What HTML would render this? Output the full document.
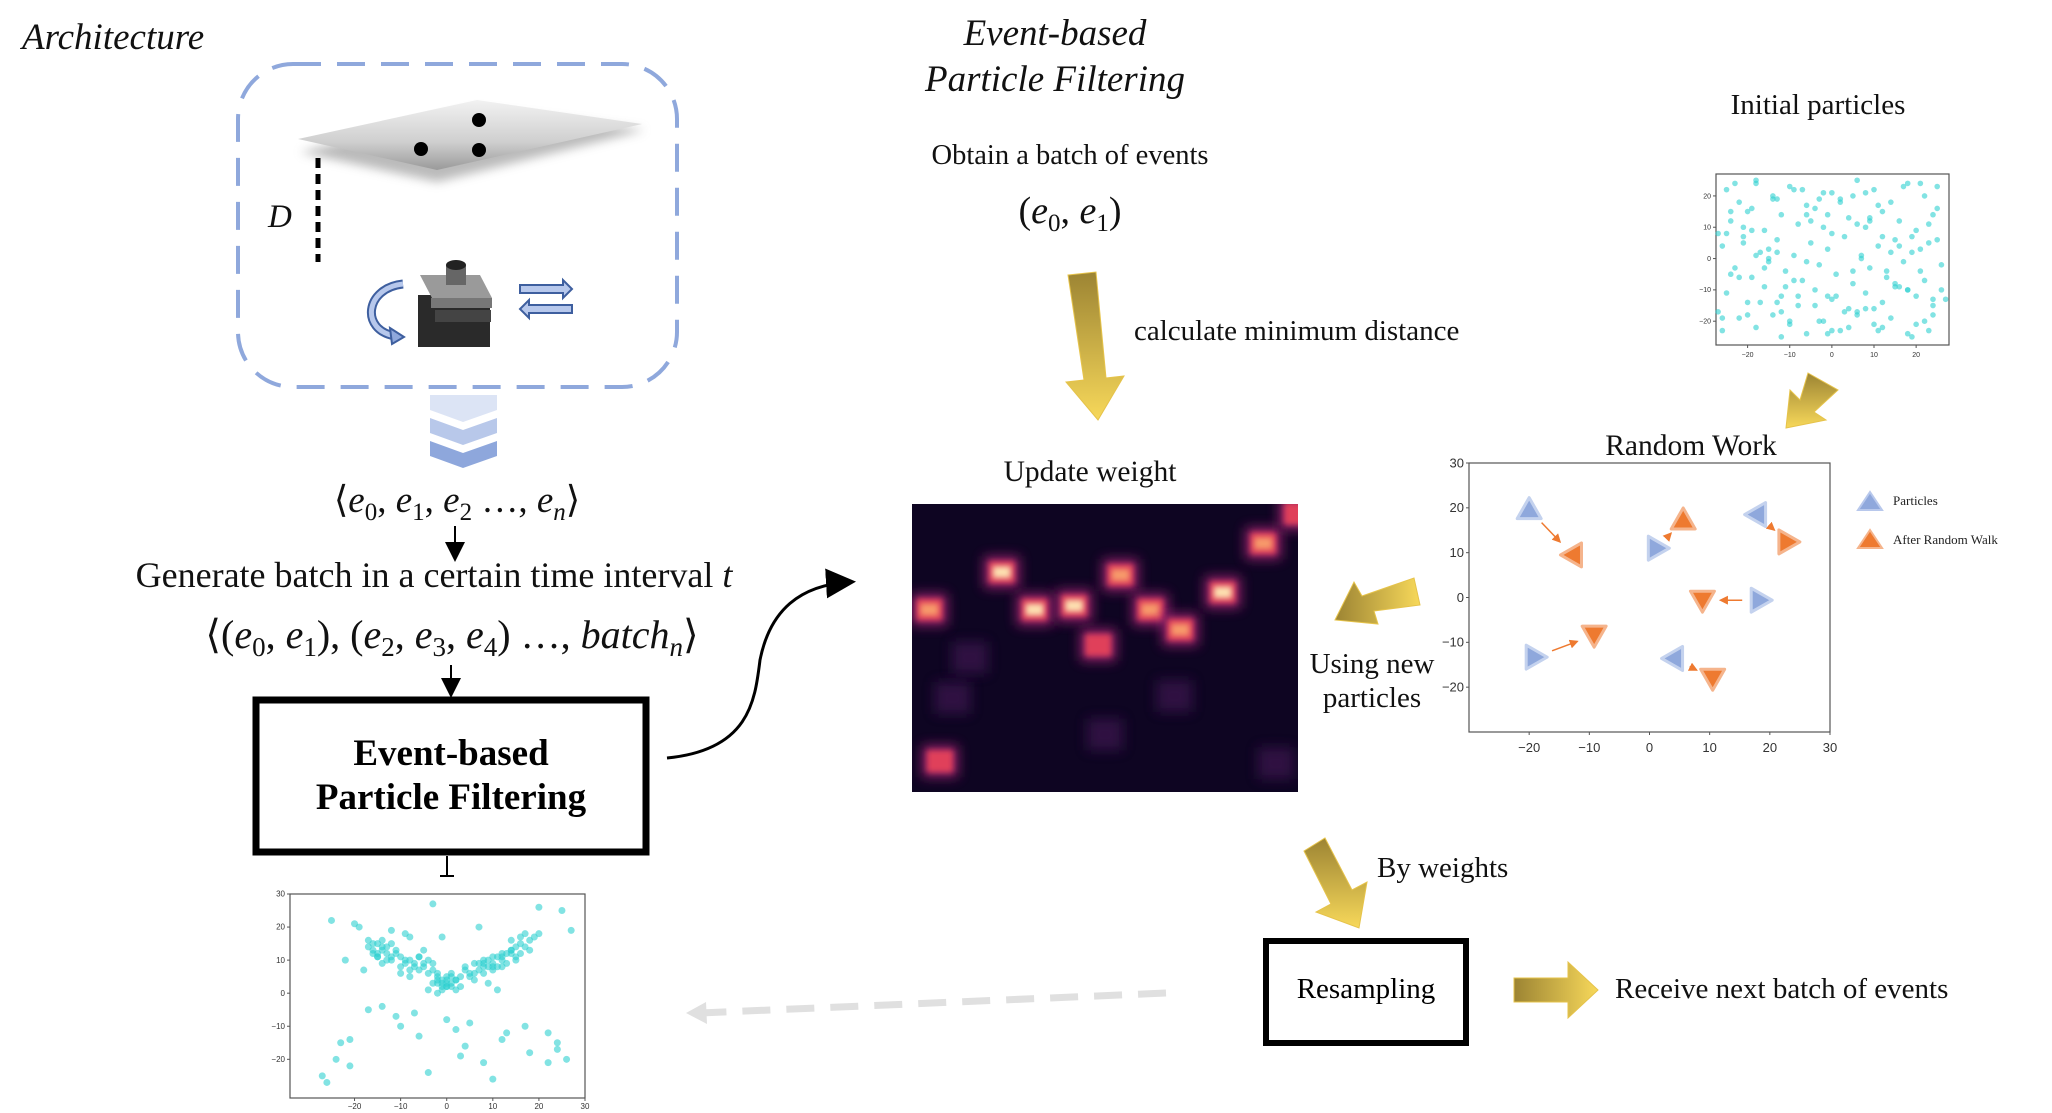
<!DOCTYPE html>
<html><head><meta charset="utf-8"><style>
html,body{margin:0;padding:0;background:#fff;}
svg{display:block;}
.serif{font-family:"Liberation Serif",serif;}
</style></head>
<body>
<svg id="root" width="2052" height="1113" viewBox="0 0 2052 1113" xmlns="http://www.w3.org/2000/svg">
<defs>
  <linearGradient id="plateG" x1="0" y1="0" x2="0" y2="1">
    <stop offset="0" stop-color="#f2f2f2"/><stop offset="0.6" stop-color="#cfcfcf"/><stop offset="1" stop-color="#9a9a9a"/>
  </linearGradient>
  <linearGradient id="goldV" x1="0" y1="0" x2="0" y2="1">
    <stop offset="0" stop-color="#9c8433"/><stop offset="1" stop-color="#f7d85a"/>
  </linearGradient>
  <linearGradient id="goldH" x1="0" y1="0" x2="1" y2="0">
    <stop offset="0" stop-color="#9c8433"/><stop offset="1" stop-color="#f7d85a"/>
  </linearGradient>
  <filter id="blur3" x="-50%" y="-50%" width="200%" height="200%"><feGaussianBlur stdDeviation="3"/></filter>
  <filter id="blur6" x="-50%" y="-50%" width="200%" height="200%"><feGaussianBlur stdDeviation="6"/></filter>
  <filter id="shadow" x="-20%" y="-50%" width="140%" height="200%"><feGaussianBlur stdDeviation="5"/></filter>
  <marker id="ah" markerWidth="10" markerHeight="10" refX="8" refY="5" orient="auto"><path d="M0,0 L10,5 L0,10 z" fill="#000"/></marker>
  <marker id="ahO" markerWidth="6" markerHeight="6" refX="5" refY="3" orient="auto"><path d="M0,0 L6,3 L0,6 z" fill="#ee7a30"/></marker>
  <clipPath id="hmClip"><rect x="912" y="504" width="386" height="288"/></clipPath>
</defs>

<!-- LEFT: Architecture -->
<text x="22" y="49" class="serif" font-style="italic" font-size="37" fill="#111">Architecture</text>
<rect x="238" y="64" width="439" height="323" rx="55" ry="55" fill="none" stroke="#8fa8dc" stroke-width="4" stroke-dasharray="28,16"/>

<g>
  <polygon points="300,152 477,110 645,130 437,182" fill="#777" opacity="0.5" filter="url(#shadow)"/>
  <polygon points="298,139 477,100 642,124 437,170" fill="url(#plateG)"/>
  <circle cx="421" cy="149" r="7" fill="#000"/>
  <circle cx="479" cy="120" r="7" fill="#000"/>
  <circle cx="479" cy="150" r="7" fill="#000"/>
</g>
<line x1="318" y1="158" x2="318" y2="262" stroke="#000" stroke-width="5" stroke-dasharray="10,6"/>
<text x="268" y="227" class="serif" font-style="italic" font-size="33" fill="#111">D</text>

<g>
  <rect x="418" y="295" width="72" height="52" fill="#2a2a2a"/>
  <polygon points="420,275 480,275 492,298 432,298" fill="#9a9a9a"/>
  <rect x="431" y="298" width="61" height="10" fill="#777"/>
  <rect x="435" y="310" width="56" height="12" fill="#444"/>
  <rect x="446" y="265" width="20" height="20" fill="#666"/>
  <ellipse cx="456" cy="265" rx="10" ry="5" fill="#222"/>
</g>
<path d="M403,284 C365,288 360,330 395,336" fill="none" stroke="#3e5f9f" stroke-width="9"/>
<path d="M403,284 C365,288 360,330 395,336" fill="none" stroke="#b7c8ec" stroke-width="5"/>
<polygon points="390,328 404,337 392,344" fill="#8fa8dc" stroke="#3e5f9f" stroke-width="2"/>
<g>
  <polygon points="520,285 563,285 563,280 572,289 563,298 563,293 520,293" fill="#b7c8ec" stroke="#3e5f9f" stroke-width="2"/>
  <polygon points="572,305 529,305 529,300 520,309 529,318 529,313 572,313" fill="#b7c8ec" stroke="#3e5f9f" stroke-width="2"/>
</g>

<g>
  <polygon points="430,395 497,395 497,410 463,422 430,410" fill="#dce4f5"/>
  <polygon points="430,418 463,430 497,418 497,433 463,445 430,433" fill="#b8c8ea"/>
  <polygon points="430,441 463,453 497,441 497,456 463,468 430,456" fill="#8ea7dc"/>
</g>

<text x="457" y="512" text-anchor="middle" font-family="Liberation Serif,serif" font-size="37" fill="#111">⟨<tspan font-style="italic">e</tspan><tspan font-size="25" dy="8">0</tspan><tspan dy="-8">, </tspan><tspan font-style="italic">e</tspan><tspan font-size="25" dy="8">1</tspan><tspan dy="-8">, </tspan><tspan font-style="italic">e</tspan><tspan font-size="25" dy="8">2</tspan><tspan dy="-8"> …, </tspan><tspan font-style="italic">e</tspan><tspan font-size="25" dy="8" font-style="italic">n</tspan><tspan dy="-8">⟩</tspan></text>
<line x1="455" y1="526" x2="455" y2="558" stroke="#000" stroke-width="2" marker-end="url(#ah)"/>
<text x="434" y="587" text-anchor="middle" class="serif" font-size="36" fill="#111">Generate batch in a certain time interval  <tspan font-style="italic">t</tspan></text>
<text x="452" y="648" text-anchor="middle" font-family="Liberation Serif,serif" font-size="40" fill="#111">⟨(<tspan font-style="italic">e</tspan><tspan font-size="27" dy="8">0</tspan><tspan dy="-8">, </tspan><tspan font-style="italic">e</tspan><tspan font-size="27" dy="8">1</tspan><tspan dy="-8">), (</tspan><tspan font-style="italic">e</tspan><tspan font-size="27" dy="8">2</tspan><tspan dy="-8">, </tspan><tspan font-style="italic">e</tspan><tspan font-size="27" dy="8">3</tspan><tspan dy="-8">, </tspan><tspan font-style="italic">e</tspan><tspan font-size="27" dy="8">4</tspan><tspan dy="-8">) …, </tspan><tspan font-style="italic">batch</tspan><tspan font-size="27" dy="8" font-style="italic">n</tspan><tspan dy="-8">⟩</tspan></text>
<line x1="451" y1="665" x2="451" y2="694" stroke="#000" stroke-width="2" marker-end="url(#ah)"/>

<g>
  <rect x="256" y="700" width="390" height="152" fill="#fff" stroke="#000" stroke-width="7"/>
  <text x="451" y="765" text-anchor="middle" class="serif" font-weight="bold" font-size="37" fill="#000">Event-based</text>
  <text x="451" y="809" text-anchor="middle" class="serif" font-weight="bold" font-size="37" fill="#000">Particle Filtering</text>
</g>
<line x1="447" y1="856" x2="447" y2="876" stroke="#000" stroke-width="2"/>
<line x1="440" y1="876" x2="454" y2="876" stroke="#000" stroke-width="2"/>
<path d="M667,758 C750,750 755,700 760,660 C770,610 800,585 850,582" fill="none" stroke="#000" stroke-width="3" marker-end="url(#ah)"/>

<g id="bottomPlot"></g>

<!-- CENTER -->
<text x="1055" y="45" text-anchor="middle" class="serif" font-style="italic" font-size="37" fill="#111">Event-based</text>
<text x="1055" y="91" text-anchor="middle" class="serif" font-style="italic" font-size="37" fill="#111">Particle Filtering</text>
<text x="1070" y="164" text-anchor="middle" class="serif" font-size="28.5" fill="#111">Obtain a batch of events</text>
<text x="1070" y="223" text-anchor="middle" font-family="Liberation Serif,serif" font-size="38" fill="#111">(<tspan font-style="italic">e</tspan><tspan font-size="25" dy="8">0</tspan><tspan dy="-8">, </tspan><tspan font-style="italic">e</tspan><tspan font-size="25" dy="8">1</tspan><tspan dy="-8">)</tspan></text>
<polygon points="1068,275 1096,272 1106,378 1124,376 1098,420 1066,382 1084,380" fill="url(#goldV)" stroke="#e6c34a" stroke-width="1"/>
<text x="1134" y="340" class="serif" font-size="29" fill="#111">calculate minimum distance</text>
<text x="1090" y="481" text-anchor="middle" class="serif" font-size="29.5" fill="#111">Update weight</text>

<g>
  <rect x="912" y="504" width="386" height="288" fill="#0e0522"/>
  <g id="heatBlobs" clip-path="url(#hmClip)"></g>
</g>

<polygon points="1304,851 1325,838 1352,890 1367,882 1359,928 1316,912 1331,904" fill="url(#goldV)" stroke="#e6c34a" stroke-width="1"/>
<text x="1377" y="877" class="serif" font-size="29" fill="#111">By weights</text>
<g>
  <rect x="1266" y="941" width="200" height="102" fill="#fff" stroke="#000" stroke-width="6"/>
  <text x="1366" y="998" text-anchor="middle" class="serif" font-size="29" fill="#000">Resampling</text>
</g>
<polygon points="1514,978 1568,978 1568,962 1598,990 1568,1018 1568,1002 1514,1002" fill="url(#goldH)" stroke="#e6c34a" stroke-width="1"/>
<text x="1615" y="998" class="serif" font-size="29" fill="#111">Receive next batch of events</text>
<line x1="1166" y1="993" x2="700" y2="1013" stroke="#e0e0e0" stroke-width="7" stroke-dasharray="28,16"/>
<polygon points="686,1013 706,1002 707,1024" fill="#e0e0e0"/>

<!-- RIGHT -->
<text x="1818" y="114" text-anchor="middle" class="serif" font-size="29" fill="#111">Initial particles</text>
<g id="initPlot"></g>
<polygon points="1808,373 1838,390 1814,412 1826,420 1786,428 1790,390 1800,400" fill="url(#goldV)" stroke="#e6c34a" stroke-width="1"/>
<text x="1691" y="455" text-anchor="middle" class="serif" font-size="29.5" fill="#111">Random Work</text>
<g id="rwPlot"></g>
<g>
  <polygon points="1858,510 1870,492 1882,510" fill="#8fa8dc" stroke="#b8c8ec" stroke-width="2"/>
  <text x="1893" y="505" class="serif" font-size="13" fill="#222">Particles</text>
  <polygon points="1858,548 1870,530 1882,548" fill="#ee7a30" stroke="#f5b48c" stroke-width="2"/>
  <text x="1893" y="544" class="serif" font-size="13" fill="#222">After Random Walk</text>
</g>
<polygon points="1414,578 1420,605 1374,611 1378,624 1335,620 1354,582 1362,596" fill="url(#goldH)" stroke="#e6c34a" stroke-width="1"/>
<text x="1372" y="673" text-anchor="middle" class="serif" font-size="29" fill="#111">Using new</text>
<text x="1372" y="707" text-anchor="middle" class="serif" font-size="29" fill="#111">particles</text>
</svg>

<script>
const NS="http://www.w3.org/2000/svg";
function mk(tag,attrs,parent){const e=document.createElementNS(NS,tag);for(const k in attrs)e.setAttribute(k,attrs[k]);parent.appendChild(e);return e;}

// ---------- Heatmap hot spots (grid units: 0..40 cols, 0..30 rows) ----------
const hmCols=[9.3,1.8,12.7,16.8,21.6,24.7,27.8,32.2,36.4,39.9,19.3,2.9,4.2,37.7,27.2,6.0,20.0];
const hmRows=[7.1,11.0,11.0,10.6,7.4,11.0,13.1,9.2,4.1,1.0,14.7,26.8,20.2,27.0,20.0,16.0,24.0];
const hmHeat=[1.0,0.85,0.95,0.95,0.85,0.9,0.85,1.0,0.9,0.8,0.6,0.7,0.35,0.3,0.2,0.2,0.2];

// ---------- Initial particles ----------
const initX=[-25,-22,-18,-14,-10,-6,-2,2,6,10,14,18,22,25,-24,-20,-16,-12,-8,-4,0,4,8,12,16,20,24,-26,-21,-17,-13,-9,-5,-1,3,7,11,15,19,23,-23,-19,-15,-11,-7,-3,1,5,9,13,17,21,26,-25,-20,-16,-12,-8,-4,0,4,8,12,16,20,24,-22,-18,-14,-10,-6,-2,2,6,10,14,18,22,-26,-21,-15,-9,-3,3,9,15,21,25,-24,-12,0,12,24,-18,-6,6,18,-27,27,-1,8,-13,
 -23,-19,-13,-7,-1,5,11,17,23,-25,-15,-5,5,15,25,-20,-10,0,10,20,-22,-12,-2,8,18,-18,-8,2,12,22,-26,-16,-6,4,14,24,-21,-11,-1,9,19,-24,-14,-4,6,16,26,-17,-3,11,21,-9,7,-27,13,-19,1,19,-13,23];
const initY=[22,18,24,20,23,17,21,19,25,22,18,24,20,23,12,15,9,14,11,16,8,13,10,15,12,9,14,4,7,2,6,1,5,3,7,0,4,6,2,5,-3,-6,-1,-4,-7,-2,-5,-8,-3,-6,-1,-4,-2,-11,-14,-9,-12,-15,-10,-13,-16,-11,-14,-9,-12,-15,-19,-22,-18,-21,-24,-20,-23,-17,-21,-19,-24,-20,-23,10,0,-7,19,-17,12,-9,3,16,-5,-25,21,-22,-18,1,-1,11,-10,8,-13,-12,-16,-14,
 24,16,19,22,14,20,17,23,11,8,3,12,-4,-8,6,-18,-20,-23,-16,-21,-6,-17,10,21,-10,25,-12,18,7,-7,-19,-3,14,-22,2,-13,5,-9,-24,13,-25,15,19,-15,-18,4,-10,-14,-20,-23,24,22,1,-17,-4,9,-12,7,2,-23];

// ---------- Result particles (after filtering) ----------
const resX=[-16,-15,-14,-13,-12,-14,-15,-11,-10,-9,-8,-7,-6,-5,-4,-3,-2,-1,0,1,2,-1,0,1,-2,3,4,5,6,7,8,9,10,11,12,13,14,15,16,17,18,16,15,14,12,10,8,-5,-8,-12,-17,-19,-25,-22,-27,-20,-24,-18,-10,-6,0,4,8,12,18,22,26,25,27,-26,-23,-21,-17,-11,-4,3,10,17,24,-14,-1,7,20,2,-9,13,-3,9,24,-21,5,11,-7,22,
 -17,-16,-15,-14,-13,-12,-11,-13,-15,-16,-14,-12,-10,-9,-8,-7,-6,-5,-4,-3,-2,-1,0,1,2,-3,-2,-1,0,1,2,3,4,5,6,7,8,9,10,11,12,13,14,15,16,17,18,19,20,14,12,10,8,6,-6,-8,-10,-4,-2,0];
const resY=[13,11,14,12,10,9,15,12,8,10,7,9,11,8,6,9,4,3,2,3,4,1,5,6,3,5,8,6,9,7,10,8,9,11,10,12,13,11,15,18,16,17,14,13,12,8,6,13,17,19,16,20,22,10,-25,21,-20,7,-10,-13,-8,-16,-21,-14,-18,-12,-20,25,19,-27,-15,-22,-5,-7,-24,-19,-26,-10,-15,-4,17,20,26,-11,18,-12,27,3,-17,-14,-9,1,-6,-21,
 14,15,12,13,14,11,13,10,11,12,16,15,11,9,10,8,7,9,10,7,5,2,4,2,1,3,6,4,3,5,4,2,7,5,6,9,8,10,7,8,11,9,12,10,12,14,13,17,18,16,8,11,9,4,11,5,6,1,0,2];

// ---------- Random walk ----------
const rwBlueX=[-20,1.3,17.8,18.4,-19,4];
const rwBlueY=[19.6,11,18.5,-0.6,-13.3,-13.6];
const rwBlueDir=["up","right","left","right","right","left"];
const rwOrX=[-12.8,5.6,23,8.8,-9.2,10.5];
const rwOrY=[9.5,17.3,12.4,-0.6,-8.4,-18];
const rwOrDir=["left","up","right","down","down","down"];

const rwTicksX=[-20,-10,0,10,20,30];
const rwTicksY=[30,20,10,0,-10,-20];
const smallTicks20=[-20,-10,0,10,20];
const bottomTicksX=[-20,-10,0,10,20,30];
const bottomTicksY=[30,20,10,0,-10,-20];

// heatmap
(function(){
  const g=document.getElementById('heatBlobs');
  const x0=912,y0=504,cw=386/40,ch=288/30;
  for(let i=0;i<hmCols.length;i++){
    const cx=x0+hmCols[i]*cw, cy=y0+hmRows[i]*ch, h=hmHeat[i];
    const glow=mk('rect',{x:cx-18,y:cy-16,width:36,height:32,fill:h>0.5?'#9a2470':'#3d1650',opacity:h>0.5?0.9:0.7,filter:'url(#blur6)'},g);
    
    
    if(h>0.5){
      const c=mk('rect',{x:cx-13,y:cy-11,width:26,height:22,fill:'#e0405a',filter:'url(#blur3)'},g);
      
      
      if(h>0.8){
        const k=mk('rect',{x:cx-9,y:cy-6,width:18,height:12,fill:h>0.9?'#fde0b0':'#f79a6a',filter:'url(#blur3)'},g);
        
        
      }
    }
  }
})();

function axesBox(g,L,T,R,B,xmin,xmax,ymin,ymax,tx,ty,fs,labelOff){
  const sx=v=>L+(v-xmin)/(xmax-xmin)*(R-L);
  const sy=v=>B-(v-ymin)/(ymax-ymin)*(B-T);
  mk('rect',{x:L,y:T,width:R-L,height:B-T,fill:'#fff',stroke:'#555','stroke-width':1.2},g);
  tx.forEach(t=>{mk('line',{x1:sx(t),y1:B,x2:sx(t),y2:B+3,stroke:'#555'},g);
    const tt=mk('text',{x:sx(t),y:B+labelOff,'text-anchor':'middle','font-family':'Liberation Sans,sans-serif','font-size':fs,fill:'#333'},g);tt.textContent=(t<0?'\u2212'+(-t):t);
    
    });
  ty.forEach(t=>{mk('line',{x1:L-3,y1:sy(t),x2:L,y2:sy(t),stroke:'#555'},g);
    const tt=mk('text',{x:L-5,y:sy(t)+fs/3,'text-anchor':'end','font-family':'Liberation Sans,sans-serif','font-size':fs,fill:'#333'},g);tt.textContent=(t<0?'\u2212'+(-t):t);
    
    });
  return [sx,sy];
}

// initial plot
(function(){
  const g=document.getElementById('initPlot');
  const [sx,sy]=axesBox(g,1716,174,1949,345,-27.5,27.8,-27.6,27,smallTicks20,smallTicks20,7,12);
  for(let i=0;i<initX.length;i++){
    const c=mk('circle',{cx:sx(initX[i]),cy:sy(initY[i]),r:2.8,fill:'#2fd0d0',opacity:0.6},g);
    
    
  }
})();

// bottom plot
(function(){
  const g=document.getElementById('bottomPlot');
  const [sx,sy]=axesBox(g,290,894,585,1098,-34,30,-31.7,30,bottomTicksX,bottomTicksY,8,11);
  for(let i=0;i<resX.length;i++){
    const c=mk('circle',{cx:sx(resX[i]),cy:sy(resY[i]),r:3.5,fill:'#2fd0d0',opacity:0.6},g);
    
    
  }
})();

// random walk
(function(){
  const g=document.getElementById('rwPlot');
  const [sx,sy]=axesBox(g,1469,463,1830,732,-30,30,-30,30,rwTicksX,rwTicksY,13,20);
  const rot={up:0,right:90,down:180,left:270};
  function tri(x,y,dir,fill,stroke,name){
    const cx=sx(x),cy=sy(y);
    const p=mk('polygon',{points:(cx-12)+','+(cy+9)+' '+cx+','+(cy-12)+' '+(cx+12)+','+(cy+9),fill:fill,stroke:stroke,'stroke-width':3,'stroke-linejoin':'round',transform:'rotate('+rot[dir]+' '+cx+' '+cy+')'},g);
    
    
  }
  for(let i=0;i<rwBlueX.length;i++){
    const x1=sx(rwBlueX[i]),y1=sy(rwBlueY[i]),x2=sx(rwOrX[i]),y2=sy(rwOrY[i]);
    const dx=x2-x1,dy=y2-y1,d=Math.hypot(dx,dy);
    const a=mk('line',{x1:x1+dx/d*18,y1:y1+dy/d*18,x2:x2-dx/d*18,y2:y2-dy/d*18,stroke:'#ee7a30','stroke-width':1.5,'marker-end':'url(#ahO)'},g);
    
    
    tri(rwBlueX[i],rwBlueY[i],rwBlueDir[i],'#8fa8dc','#c4d2ee','particle-marker');
    tri(rwOrX[i],rwOrY[i],rwOrDir[i],'#ee7a30','#f5b48c','walked-particle-marker');
  }
})();
</script>
</body></html>
